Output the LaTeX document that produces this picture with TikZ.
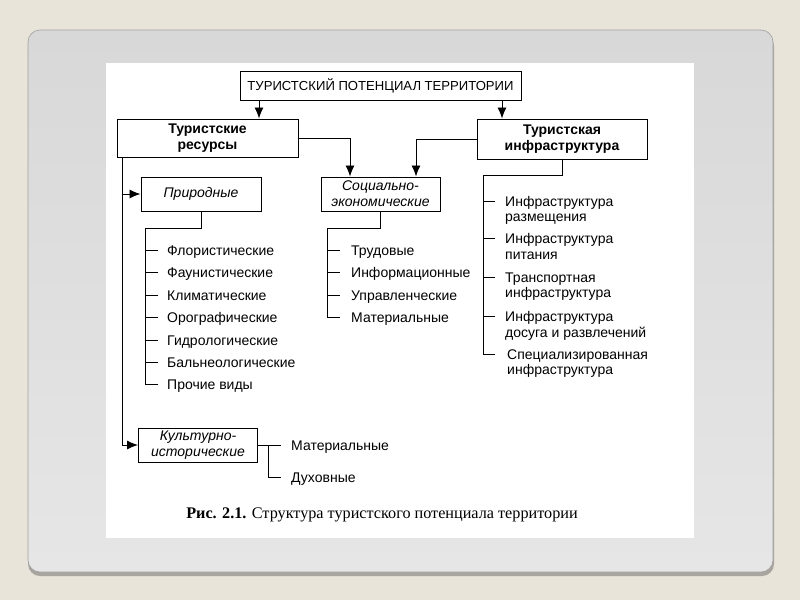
\documentclass[tikz,border=0pt]{standalone}
\usepackage{fontspec}
\setmainfont{Liberation Sans}
\newfontfamily\capfont{Liberation Serif}
\usetikzlibrary{arrows.meta}
\definecolor{pagebg}{RGB}{233,228,218}
\definecolor{framelo}{RGB}{168,164,158}
\definecolor{frameline}{RGB}{160,160,160}
\definecolor{frametop}{RGB}{216,216,216}
\definecolor{framebot}{RGB}{230,230,230}
\begin{document}
\begin{tikzpicture}[x=1pt, y=-1pt]
  \tikzstyle{box}=[draw, line width=1pt, fill=white, inner sep=0pt, align=center, font=\fontsize{13.1}{16}\selectfont]
  \tikzstyle{head}=[font=\fontsize{14}{16}\selectfont\bfseries]
  \tikzstyle{sub}=[font=\fontsize{14}{16}\selectfont\itshape]
  \tikzstyle{item}=[anchor=base west, inner sep=0pt, align=left, font=\fontsize{14}{15.5}\selectfont]
  \tikzstyle{link}=[line width=0.9pt]
  \tikzstyle{arr}=[line width=0.9pt, -{Latex[length=11pt, width=9pt]}]

  % slide background
  \useasboundingbox (0,0) rectangle (800,600);
  \fill[pagebg] (0,0) rectangle (800,600);
  \fill[framelo, rounded corners=12pt] (28,34) rectangle (774,576);
  \shade[top color=frametop, bottom color=framebot, draw=frameline, line width=0.6pt, rounded corners=12pt] (28,30) rectangle (773,572);
  \fill[white] (106,63) rectangle (694,538);

  \node[box]       (top)   at (380.5, 85.5) [minimum width=281pt, minimum height=29pt] {ТУРИСТСКИЙ ПОТЕНЦИАЛ ТЕРРИТОРИИ};
  \node[box, head] (res)   at (207.5, 138)  [minimum width=181pt, minimum height=38pt] {Туристские\\ресурсы};
  \node[box, head] (infra) at (562,   139)  [minimum width=170pt, minimum height=40pt] {Туристская\\инфраструктура};
  \node[box, sub]  (nat)   at (201,   194)  [minimum width=120pt, minimum height=34pt] {Природные};
  \node[box, sub]  (soc)   at (380.5, 194)  [minimum width=119pt, minimum height=34pt] {Социально-\\экономические};
  \node[box, sub]  (cult)  at (198,   445)  [minimum width=119pt, minimum height=34pt] {Культурно-\\исторические};

  \coordinate (c0) at (122.5, 0);
  \coordinate (c1) at (259, 0);
  \coordinate (c2) at (502, 0);
  \coordinate (c3) at (350, 0);
  \coordinate (c4) at (416, 0);

  \draw[arr] (top.south -| c1) -- (res.north -| c1);
  \draw[arr] (top.south -| c2) -- (infra.north -| c2);
  \draw[arr] (res.east) -| (soc.north -| c3);
  \draw[arr] (infra.west) -| (soc.north -| c4);
  \draw[arr] (res.south -| c0) |- (nat.west);
  \draw[arr] (res.south -| c0) |- (cult.west);

  % natural resources
  \node[item] (n1) at (167, 255.5) {Флористические};
  \node[item] (n2) at (167, 277.9) {Фаунистические};
  \node[item] (n3) at (167, 300.3) {Климатические};
  \node[item] (n4) at (167, 322.7) {Орографические};
  \node[item] (n5) at (167, 345.1) {Гидрологические};
  \node[item] (n6) at (167, 367.5) {Бальнеологические};
  \node[item] (n7) at (167, 389.9) {Прочие виды};

  \draw[link] (nat.south) -- ++(0,16.6) -| ([shift={(-22,-5)}]n7.base west);
  \draw[link] ([shift={(-9,-5)}]n1.base west) -- ([shift={(-22,-5)}]n1.base west);
  \draw[link] ([shift={(-9,-5)}]n2.base west) -- ([shift={(-22,-5)}]n2.base west);
  \draw[link] ([shift={(-9,-5)}]n3.base west) -- ([shift={(-22,-5)}]n3.base west);
  \draw[link] ([shift={(-9,-5)}]n4.base west) -- ([shift={(-22,-5)}]n4.base west);
  \draw[link] ([shift={(-9,-5)}]n5.base west) -- ([shift={(-22,-5)}]n5.base west);
  \draw[link] ([shift={(-9,-5)}]n6.base west) -- ([shift={(-22,-5)}]n6.base west);
  \draw[link] ([shift={(-9,-5)}]n7.base west) -- ([shift={(-22,-5)}]n7.base west);

  % socio-economic resources
  \node[item] (s1) at (351, 255.5) {Трудовые};
  \node[item] (s2) at (351, 277.9) {Информационные};
  \node[item] (s3) at (351, 300.3) {Управленческие};
  \node[item] (s4) at (351, 322.7) {Материальные};

  \draw[link] (soc.south) -- ++(0,16.6) -| ([shift={(-24,-5)}]s4.base west);
  \draw[link] ([shift={(-11,-5)}]s1.base west) -- ([shift={(-24,-5)}]s1.base west);
  \draw[link] ([shift={(-11,-5)}]s2.base west) -- ([shift={(-24,-5)}]s2.base west);
  \draw[link] ([shift={(-11,-5)}]s3.base west) -- ([shift={(-24,-5)}]s3.base west);
  \draw[link] ([shift={(-11,-5)}]s4.base west) -- ([shift={(-24,-5)}]s4.base west);

  % infrastructure (base = last line)
  \node[item] (i1) at (505, 221.5) {Инфраструктура\\размещения};
  \node[item] (i2) at (505, 259)   {Инфраструктура\\питания};
  \node[item] (i3) at (505, 297.5) {Транспортная\\инфраструктура};
  \node[item] (i4) at (505, 337)   {Инфраструктура\\досуга и развлечений};
  \node[item] (i5) at (507, 374.5) {Специализированная\\инфраструктура};

  \draw[link] (infra.south) -- ++(0,16) -| ([shift={(-24,-20.5)}]i5.base west);
  \draw[link] ([shift={(-10,-20.5)}]i1.base west) -- ([shift={(-22,-20.5)}]i1.base west);
  \draw[link] ([shift={(-10,-20.5)}]i2.base west) -- ([shift={(-22,-20.5)}]i2.base west);
  \draw[link] ([shift={(-10,-20.5)}]i3.base west) -- ([shift={(-22,-20.5)}]i3.base west);
  \draw[link] ([shift={(-10,-20.5)}]i4.base west) -- ([shift={(-22,-20.5)}]i4.base west);
  \draw[link] ([shift={(-12,-20.5)}]i5.base west) -- ([shift={(-24,-20.5)}]i5.base west);

  % cultural-historical
  \node[item] (k1) at (291, 450) {Материальные};
  \node[item] (k2) at (291, 482) {Духовные};

  \draw[link] (cult.east) -- ([shift={(-10,-5)}]k1.base west);
  \draw[link] ([xshift=10.5pt]cult.east) |- ([shift={(-10,-5)}]k2.base west);

  \node (cap) at (382, 515) {\capfont\fontsize{16.2}{19}\selectfont\textbf{Рис. 2.1.} Структура туристского потенциала территории};
\end{tikzpicture}
\end{document}
